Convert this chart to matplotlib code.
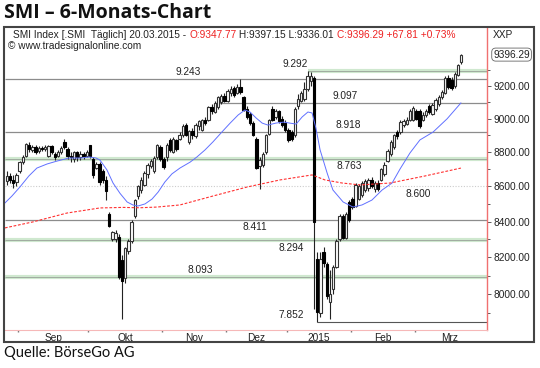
import matplotlib
matplotlib.use('Agg')
import matplotlib.pyplot as plt
import numpy as np
from matplotlib.patches import Rectangle
from matplotlib.ticker import FixedLocator, NullFormatter, FuncFormatter

# SMI Tageskerzen 26.08.2014 - 20.03.2015 (ein Eintrag pro Handelstag)
opens = [8630, 8660, 8640, 8625, 8690, 8745, 8780, 8840, 8815, 8830,
         8805, 8825, 8820, 8775, 8835, 8790, 8780, 8800, 8860, 8820,
         8780, 8760, 8800, 8770, 8790, 8780, 8840, 8760, 8710, 8730,
         8690, 8640, 8440, 8300, 8300, 8315, 8186, 8090, 8235, 8290,
         8430, 8545, 8580, 8610, 8670, 8720, 8690, 8770, 8830, 8760,
         8770, 8875, 8800, 8870, 8880, 8900, 8960, 8860, 8925, 8895,
         8955, 8935, 8995, 8990, 9070, 9040, 9070, 9100, 9140, 9110,
         9160, 9185, 9160, 9195, 9130, 9060, 9030, 8975, 8880, 8720,
         8725, 8800, 8910, 9060, 9010, 9050, 9000, 8975, 8935, 8920,
         8900, 9080, 9110, 9120, 9180, 9230, 9250, 8190, 7900, 8230,
         8165, 7960, 8030, 8150, 8300, 8430, 8310, 8510, 8530, 8490,
         8530, 8550, 8580, 8590, 8640, 8585, 8620, 8640, 8670, 8750,
         8790, 8830, 8920, 8920, 8960, 8970, 8995, 8995, 9050, 9050,
         8995, 9020, 9075, 9030, 9060, 9090, 9130, 9160, 9250, 9240,
         9200, 9270, 9347.77]
highs = [8690, 8680, 8665, 8680, 8750, 8785, 8855, 8860, 8845, 8840,
         8835, 8835, 8840, 8845, 8845, 8800, 8815, 8835, 8880, 8830,
         8800, 8810, 8810, 8805, 8800, 8815, 8845, 8770, 8740, 8745,
         8700, 8660, 8455, 8345, 8350, 8330, 8215, 8260, 8300, 8410,
         8530, 8610, 8655, 8690, 8735, 8760, 8780, 8850, 8845, 8770,
         8855, 8885, 8890, 8880, 8920, 8970, 8975, 8935, 8945, 8975,
         8995, 9000, 9010, 9080, 9090, 9105, 9140, 9150, 9160, 9180,
         9200, 9200, 9215, 9243, 9140, 9075, 9040, 8985, 8890, 8770,
         8800, 8910, 9000, 9075, 9060, 9055, 9015, 8990, 8945, 8935,
         9070, 9150, 9170, 9225, 9292, 9285, 9265, 8230, 8230, 8260,
         8175, 8130, 8160, 8300, 8440, 8445, 8455, 8520, 8540, 8620,
         8615, 8630, 8645, 8650, 8655, 8630, 8635, 8710, 8740, 8820,
         8870, 8910, 8930, 8990, 9000, 9010, 9060, 9075, 9060, 9060,
         9040, 9060, 9090, 9095, 9125, 9145, 9175, 9260, 9270, 9255,
         9290, 9340, 9397.15]
lows = [8610, 8620, 8590, 8600, 8680, 8730, 8770, 8800, 8800, 8790,
        8795, 8810, 8810, 8770, 8790, 8755, 8770, 8790, 8820, 8760,
        8740, 8740, 8750, 8755, 8760, 8770, 8765, 8650, 8700, 8610,
        8620, 8520, 8370, 8290, 8285, 8080, 7870, 8060, 8220, 8280,
        8420, 8530, 8560, 8600, 8650, 8705, 8680, 8760, 8750, 8700,
        8750, 8800, 8795, 8810, 8870, 8890, 8895, 8850, 8880, 8885,
        8930, 8925, 8960, 8985, 9030, 9035, 9060, 9090, 9100, 9100,
        9140, 9130, 9150, 9150, 9045, 9000, 8965, 8895, 8700, 8585,
        8715, 8790, 8900, 8985, 9000, 8975, 8950, 8920, 8860, 8865,
        8890, 9060, 9100, 9110, 9170, 9200, 7920, 7852, 7880, 8150,
        7975, 7870, 8000, 8140, 8290, 8300, 8300, 8400, 8470, 8480,
        8520, 8540, 8570, 8575, 8590, 8570, 8575, 8630, 8660, 8740,
        8780, 8820, 8880, 8910, 8950, 8960, 8985, 8985, 8990, 8945,
        8985, 9010, 9030, 9020, 9050, 9080, 9120, 9150, 9180, 9175,
        9190, 9260, 9336.01]
closes = [8660, 8640, 8620, 8665, 8740, 8770, 8850, 8820, 8830, 8800,
          8825, 8820, 8830, 8835, 8800, 8770, 8800, 8825, 8830, 8780,
          8770, 8800, 8770, 8790, 8780, 8800, 8775, 8665, 8730, 8625,
          8640, 8575, 8375, 8340, 8335, 8095, 8070, 8250, 8290, 8400,
          8520, 8600, 8640, 8680, 8725, 8750, 8765, 8840, 8760, 8715,
          8840, 8815, 8880, 8820, 8905, 8955, 8905, 8925, 8900, 8960,
          8985, 8990, 8975, 9070, 9045, 9095, 9130, 9140, 9110, 9170,
          9180, 9145, 9195, 9165, 9055, 9010, 8975, 8905, 8710, 8755,
          8790, 8900, 8990, 8995, 9050, 8985, 8960, 8930, 8875, 8880,
          9060, 9120, 9160, 9180, 9260, 9260, 8400, 7905, 8190, 8170,
          7990, 8000, 8150, 8290, 8430, 8310, 8440, 8410, 8480, 8610,
          8600, 8620, 8630, 8640, 8600, 8620, 8585, 8700, 8725, 8810,
          8860, 8900, 8895, 8980, 8985, 8995, 9050, 9065, 9000, 8955,
          9025, 9050, 9040, 9085, 9115, 9135, 9165, 9250, 9195, 9190,
          9275, 9328.48, 9396.29]
last_date = '20.03.2015'

# gleitende Durchschnitte (Handelstag, Wert)
ma_blue_day = [-0.6, 1.6, 4.1, 6.9, 9.4, 12.6, 15.7, 19.4, 23.2, 25.7,
               27.9, 29.1, 31.3, 33.2, 35.4, 37.6, 39.4, 41.0, 43.2, 45.4,
               47.3, 49.4, 51.6, 54.1, 57.3, 59.4, 61.9, 64.4, 67.2, 69.8,
               72.3, 74.4, 76.0, 77.9, 79.8, 81.6, 84.1, 86.6, 88.4, 90.4,
               92.3, 94.1, 95.4, 96.6, 97.9, 100.1, 101.9, 105.1, 108.2, 111.0,
               114.1, 117.3, 120.4, 122.9, 126.0, 129.1, 133.2, 137.6, 141.9]
ma_blue_val = [8505, 8545, 8597, 8661, 8707, 8731, 8748, 8766, 8766, 8772,
               8766, 8754, 8696, 8620, 8560, 8511, 8494, 8488, 8500, 8528,
               8568, 8626, 8673, 8707, 8742, 8772, 8813, 8861, 8920, 8974,
               9023, 9053, 9041, 9005, 8974, 8962, 8974, 8980, 8974, 8968,
               9011, 9041, 9035, 8944, 8814, 8678, 8580, 8511, 8482, 8494,
               8522, 8580, 8620, 8702, 8796, 8873, 8920, 9000, 9096]
ma_red_day = [-0.6, 8.2, 18.8, 29.1, 36.3, 41.6, 46.9, 54.1, 64.4, 75.1,
              85.4, 95.4, 99.4, 104.8, 110.4, 119.8, 130.7, 141.9]
ma_red_val = [8364, 8398, 8448, 8477, 8480, 8478, 8482, 8494, 8545, 8597,
              8638, 8667, 8638, 8620, 8609, 8620, 8661, 8707]

# Unterstuetzungen / Widerstaende
levels = [9292, 9243, 9097, 8918, 8763, 8600, 8411, 8294, 8093, 7852]
level_names = ['9.292', '9.243', '9.097', '8.918', '8.763', '8.600',
               '8.411', '8.294', '8.093', '7.852']
level_from = [94, None, 65, None, None, None, None, None, None, 97]

# Monate
months = ['Sep', 'Okt', 'Nov', 'Dez', '2015', 'Feb', 'Mrz']
month_start = [4, 26, 49, 69, 88, 108, 128]
month_len = [22, 23, 20, 19, 20, 20, 22]

W, H = 540, 368
def fx(px):
    return px / W
def fy(py):
    return 1 - py / H

FONT = 'Liberation Sans'
fs = 7.3

fig = plt.figure(figsize=(5.4, 3.68), dpi=100)
ax = fig.add_axes([fx(5), fy(330), fx(487) - fx(5), fy(27) - fy(330)])
ax.set_yscale('log')
xmin, xmax = -0.56, 150.06
ax.set_xlim(xmin, xmax)
ax.set_ylim(7810, 9572)

# Linien
lab_style = {  # Position der Beschriftung (Handelstag), oben/unten
    '9.292': (90.1, 1), '9.243': (56.6, 1), '9.097': (105.7, 1),
    '8.918': (106.6, 1), '8.763': (107, -1), '8.600': (128.5, -1),
    '8.411': (77.6, -1), '8.294': (88.8, -1), '8.093': (60.4, 1),
    '7.852': (88.8, 1)}
green = ['9.292', '8.763', '8.294', '8.093']
for lvl, name, start in zip(levels, level_names, level_from):
    x0 = xmin if start is None else start
    if name in green:
        ax.hlines(lvl, x0, xmax, color='#cfe8cf', lw=3.0, zorder=1)
        ax.hlines(lvl, x0, xmax, color='#a0aca0', lw=0.7, zorder=1.1)
    elif name == '8.600':
        ax.hlines(lvl, x0, xmax, color='#cccccc', lw=0.8, ls=(0, (1, 1.5)), zorder=1)
    elif name == '7.852':
        ax.hlines(lvl, x0, xmax, color='#555555', lw=0.8, zorder=1)
    else:
        ax.hlines(lvl, x0, xmax, color='#8c8c8c', lw=0.9, zorder=1)
    lx, side = lab_style[name]
    ax.annotate(name, xy=(lx, lvl), xytext=(0, 1.5 * side), textcoords='offset points',
                ha='center', va='bottom' if side > 0 else 'top',
                fontsize=fs, family=FONT, color='#222222', zorder=2)

# gleitende Durchschnitte
ax.plot(ma_blue_day, ma_blue_val, color='#6070ff', lw=0.7, zorder=5)
ax.plot(ma_red_day, ma_red_val, color='#ff3030', lw=0.8, ls=(0, (2.5, 1.5)), zorder=5)

# Kerzen
o = np.array(opens); c = np.array(closes); h = np.array(highs); l = np.array(lows)
x = np.arange(len(c))
up = c >= o
ax.vlines(x, l, h, color='#222222', lw=0.8, zorder=3)
ax.bar(x[up], c[up] - o[up], bottom=o[up], width=0.8, color='white',
       edgecolor='#333333', lw=0.8, zorder=4)
ax.bar(x[~up], o[~up] - c[~up], bottom=c[~up], width=0.8, color='black',
       edgecolor='black', lw=0.8, zorder=4)

# Achsen
for s in ['top', 'left']:
    ax.spines[s].set_visible(False)
ax.spines['right'].set_color('#f07070')
ax.spines['right'].set_linewidth(1.0)
ax.spines['bottom'].set_color('#f6b8b8')
ax.spines['bottom'].set_linewidth(0.8)

ax.yaxis.tick_right()
ax.yaxis.set_major_locator(FixedLocator(np.arange(8000, 9400, 200)))
ax.yaxis.set_minor_locator(FixedLocator(np.arange(7900, 9500, 200)))
ax.yaxis.set_major_formatter(FuncFormatter(lambda v, p: '%.2f' % v))
ax.yaxis.set_minor_formatter(NullFormatter())
ax.tick_params(axis='y', which='major', length=3, width=0.6, color='#444444', pad=1.5,
               labelsize=fs, labelcolor='#222222', direction='out')
ax.tick_params(axis='y', which='minor', length=2, width=0.6, color='#444444', direction='out')

ms = np.array(month_start)
ax.set_xticks(ms + np.array(month_len) / 2 - 0.5)
ax.set_xticklabels(months)
ax.set_xticks(ms - 0.5, minor=True)
ax.tick_params(axis='x', which='major', length=0, pad=2, labelsize=fs, labelcolor='#222222')
ax.tick_params(axis='x', which='minor', length=1.5, width=1, color='#777777', direction='out')
for t in ax.get_xticklabels() + ax.get_yticklabels():
    t.set_family(FONT)

# letzter Kurs
ax.annotate('%.2f' % c[-1], xy=(1, c[-1]), xycoords=('axes fraction', 'data'),
            xytext=(4.5, 0), textcoords='offset points', ha='left', va='center',
            fontsize=fs, family=FONT, color='#222222', annotation_clip=False,
            bbox=dict(boxstyle='round,pad=0.15,rounding_size=0.4', fc='white', ec='#666666', lw=0.6))

# Kopfzeile
chg = c[-1] - c[-2]
parts = [('SMI Index [.SMI  Täglich] %s - ' % last_date, '#222222'),
         ('O:%.2f' % o[-1], '#ee2222'),
         (' H:%.2f L:%.2f ' % (h[-1], l[-1]), '#222222'),
         ('C:%.2f %+.2f %+.2f%%' % (c[-1], chg, chg / c[-2] * 100), '#ee2222')]
t = fig.text(fx(13), fy(30), parts[0][0], ha='left', va='top', fontsize=fs,
             family=FONT, color=parts[0][1])
for s, col in parts[1:]:
    t = ax.annotate(s, xy=(1, 0), xycoords=t, va='bottom', ha='left', fontsize=fs,
                    family=FONT, color=col, annotation_clip=False)
fig.text(fx(8), fy(41), '© www.tradesignalonline.com', ha='left', va='top',
         fontsize=fs, family=FONT, color='#222222')
fig.text(fx(493), fy(30), 'XXP', ha='left', va='top', fontsize=fs, family=FONT, color='#222222')

# Rahmen
fig.add_artist(Rectangle((fx(4), fy(342)), fx(534) - fx(4), fy(27) - fy(342),
                         transform=fig.transFigure, fill=False, ec='#444444', lw=1.5))

fig.text(fx(4), fy(3), 'SMI – 6-Monats-Chart', ha='left', va='top', fontsize=14,
         family='Open Sans', fontweight='bold', color='#111111')
fig.text(fx(4), fy(346), 'Quelle: BörseGo AG', ha='left', va='top', fontsize=10.5,
         family='Lato', color='#111111')

fig.savefig('out.png', dpi=100)
